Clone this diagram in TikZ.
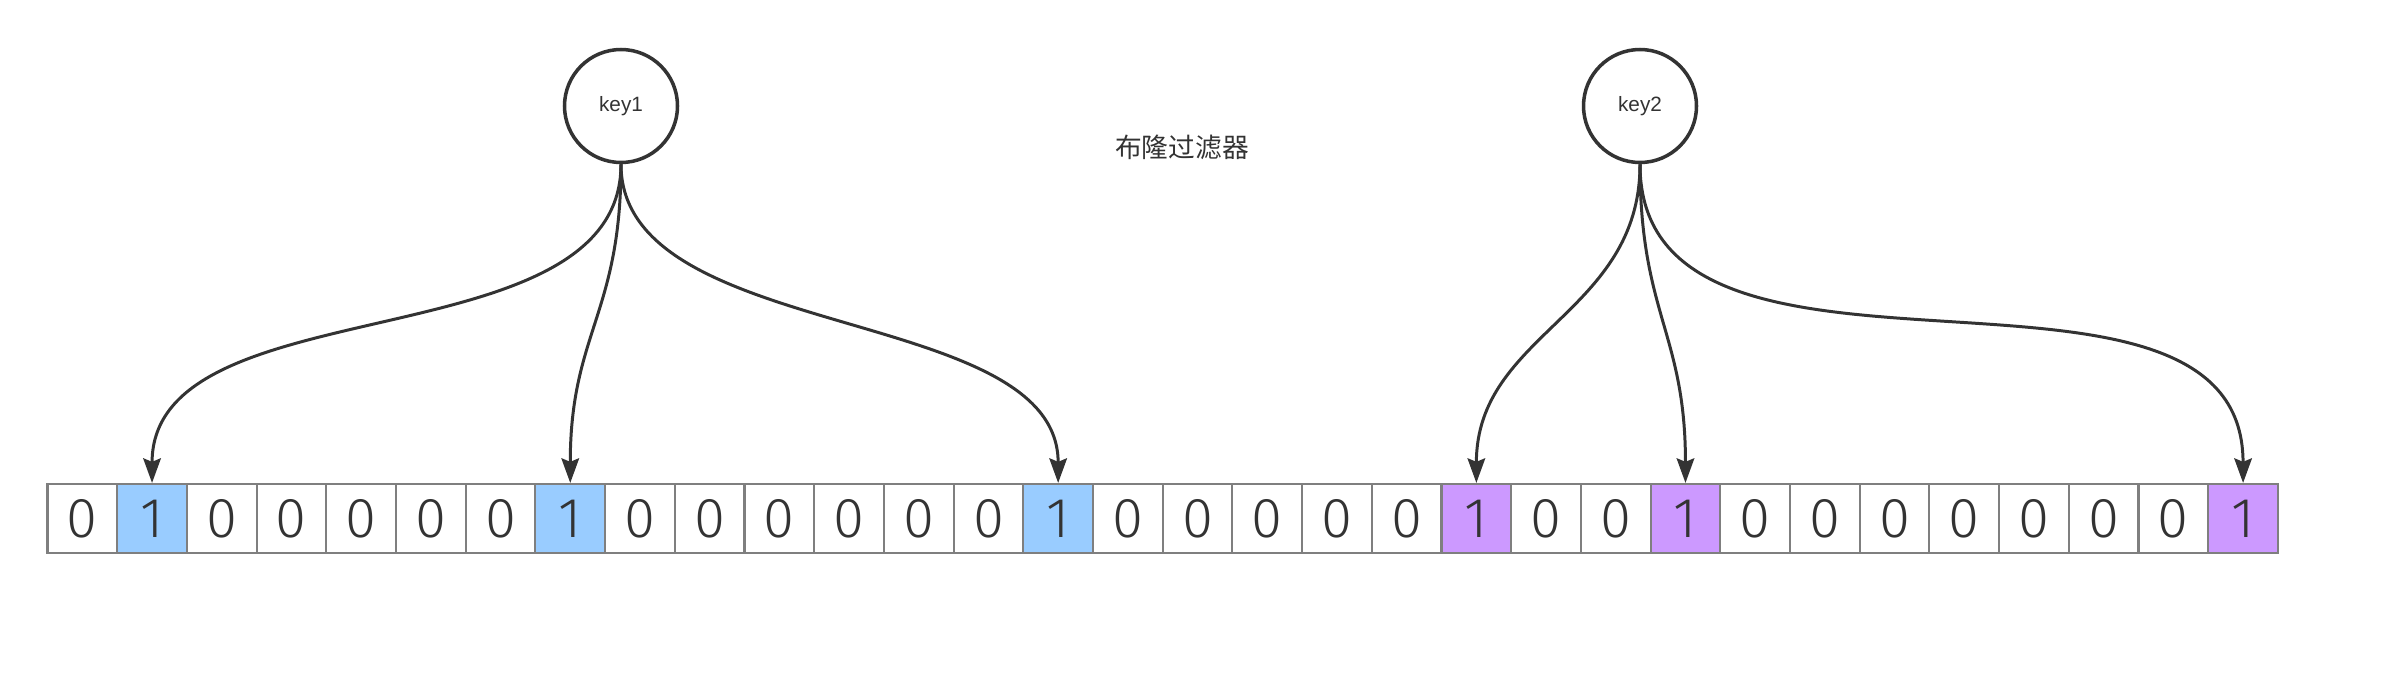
\documentclass[tikz,border=0pt]{standalone}
\usepackage{fontspec}
\setmainfont{Liberation Sans}
\newfontfamily\cjk{Noto Sans CJK SC}
\newfontfamily\digitfont{Fira Sans Light}
\usetikzlibrary{arrows.meta}

\definecolor{linecol}{HTML}{333333}
\definecolor{cellborder}{HTML}{7F7F7F}
\definecolor{hitblue}{HTML}{99CCFF}
\definecolor{hitpurple}{HTML}{CC99FF}

\tikzstyle{key}=[circle,draw=linecol,line width=1pt,minimum size=1.13cm,inner sep=0pt,text=linecol,font=\fontsize{5.9}{6}\selectfont]
\tikzstyle{bit}=[rectangle,draw=cellborder,line width=0.6pt,minimum width=0.697cm,minimum height=0.69cm,inner sep=0pt,text=linecol,font=\digitfont\fontsize{16}{16}\selectfont]
\tikzstyle{hitA}=[bit,fill=hitblue]
\tikzstyle{hitB}=[bit,fill=hitpurple]
\tikzstyle{hash}=[draw=linecol,line width=0.85pt,-{Stealth[length=7pt,width=5pt,inset=1pt]}]

\begin{document}
\begin{tikzpicture}
		\useasboundingbox (0,0) rectangle (24.04,-6.84);

		\node [key] (key1)  at (6.21,-1.06)  {key1};
		\node [key] (key2)  at (16.40,-1.06) {key2};
		\node [text=linecol,font=\cjk\fontsize{7.6}{8}\selectfont] (title) at (11.82,-1.47) {布隆过滤器};

		\foreach \v/\s [count=\i] in {0/bit,1/hitA,0/bit,0/bit,0/bit,0/bit,0/bit,1/hitA,
			0/bit,0/bit,0/bit,0/bit,0/bit,0/bit,1/hitA,0/bit,
			0/bit,0/bit,0/bit,0/bit,1/hitB,0/bit,0/bit,1/hitB,
			0/bit,0/bit,0/bit,0/bit,0/bit,0/bit,0/bit,1/hitB}
			\node [\s] (c\i) at ({0.475+0.697*(\i-0.5)},-5.185) {\v};

		\draw [hash] (key1.south) .. controls +(0,-2.0) and +(0,2.0) .. (c2.north);
		\draw [hash] (key1.south) .. controls +(0,-1.5) and +(0,1.5) .. (c8.north);
		\draw [hash] (key1.south) .. controls +(0,-1.8) and +(0,1.8) .. (c15.north);
		\draw [hash] (key2.south) .. controls +(0,-1.5) and +(0,1.5) .. (c21.north);
		\draw [hash] (key2.south) .. controls +(0,-1.5) and +(0,1.5) .. (c24.north);
		\draw [hash] (key2.south) .. controls +(0,-2.7) and +(0,2.7) .. (c32.north);
	\end{tikzpicture}
\end{document}
